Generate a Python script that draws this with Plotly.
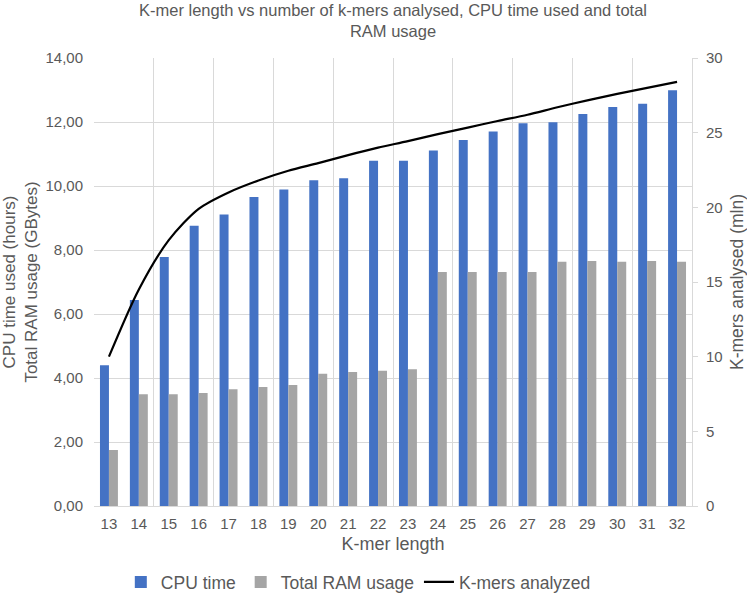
import plotly.graph_objects as go

kmer_length = [13, 14, 15, 16, 17, 18, 19, 20, 21, 22, 23, 24, 25, 26, 27, 28, 29, 30, 31, 32]
cpu_time = [4.40, 6.44, 7.78, 8.76, 9.11, 9.66, 9.89, 10.18, 10.24, 10.79,
            10.79, 11.11, 11.44, 11.70, 11.96, 11.99, 12.25, 12.47, 12.57, 12.99]
ram_usage = [1.75, 3.49, 3.49, 3.53, 3.65, 3.72, 3.78, 4.13, 4.19, 4.23,
             4.27, 7.31, 7.31, 7.31, 7.31, 7.63, 7.66, 7.63, 7.66, 7.63]
kmers_analysed = [10.0, 14.5, 17.8, 19.9, 21.0, 21.8, 22.45, 22.96, 23.5, 24.0,
                  24.43, 24.9, 25.34, 25.78, 26.2, 26.7, 27.16, 27.6, 28.0, 28.4]

FONT = "Liberation Sans, Arial, sans-serif"
GREY_TXT = "#595959"
GRID = "#D9D9D9"

fig = go.Figure()
fig.add_trace(go.Bar(x=kmer_length, y=cpu_time, name="CPU time",
                     marker=dict(color="#4472C4", line=dict(width=0))))
fig.add_trace(go.Bar(x=kmer_length, y=ram_usage, name="Total RAM usage",
                     marker=dict(color="#A5A5A5", line=dict(width=0))))
fig.add_trace(go.Scatter(x=kmer_length, y=kmers_analysed, name="K-mers analyzed",
                         mode="lines", yaxis="y2",
                         line=dict(color="black", width=2.2, shape="spline", smoothing=0.8)))

fig.update_layout(
    width=747, height=594,
    separators=", ",
    paper_bgcolor="white", plot_bgcolor="white",
    font=dict(family=FONT, color=GREY_TXT, size=15),
    title=dict(text="K-mer length vs number of k-mers analysed, CPU time used and total<br>RAM usage",
               x=0.5, xanchor="center", xref="paper", y=1 - 16 / 594, yanchor="top",
               yref="container",
               font=dict(size=16.5, color=GREY_TXT)),
    margin=dict(l=94, r=55, t=58, b=88, autoexpand=False),
    barmode="group", bargap=0.4, bargroupgap=0,
    showlegend=True,
    legend=dict(orientation="h", x=0.442, xanchor="center", xref="paper",
                y=1 - 582 / 594, yanchor="middle", yref="container",
                font=dict(size=17.5, color=GREY_TXT), traceorder="normal",
                itemwidth=30),
    xaxis=dict(
        range=[12.5, 32.5], tickmode="array", tickvals=kmer_length,
        ticktext=[str(k) for k in kmer_length],
        showgrid=False, zeroline=False, automargin=False,
        showline=True, linecolor=GRID, linewidth=1,
        ticks="", tickfont=dict(size=15, color=GREY_TXT), ticklabelstandoff=4,
        title=dict(text="K-mer length", font=dict(size=18, color=GREY_TXT), standoff=6),
        minor=dict(tickmode="linear", tick0=12.5, dtick=2, showgrid=True,
                   gridcolor=GRID, gridwidth=1, ticks="outside", ticklen=0),
    ),
    yaxis=dict(
        range=[0, 14], dtick=2, tickformat=".2f", automargin=False,
        showgrid=True, gridcolor=GRID, gridwidth=1, zeroline=False,
        showline=False, ticks="", ticklabelstandoff=10,
        tickfont=dict(size=15, color=GREY_TXT),
        title=dict(text="CPU time used (hours)<br>Total RAM usage (GBytes)",
                   font=dict(size=17, color=GREY_TXT), standoff=4),
    ),
    yaxis2=dict(
        range=[0, 30], dtick=5, overlaying="y", side="right", automargin=False,
        showgrid=False, zeroline=False,
        showline=True, linecolor=GRID, linewidth=1,
        ticks="outside", ticklen=5, tickcolor=GRID, ticklabelstandoff=5,
        tickfont=dict(size=15, color=GREY_TXT),
        title=dict(text="K-mers analysed (mln)", font=dict(size=17.5, color=GREY_TXT), standoff=10),
    ),
)

fig.write_html("out.html",
               config={"displayModeBar": False},
               post_script="document.body.style.margin='0';document.body.style.overflow='hidden';")
